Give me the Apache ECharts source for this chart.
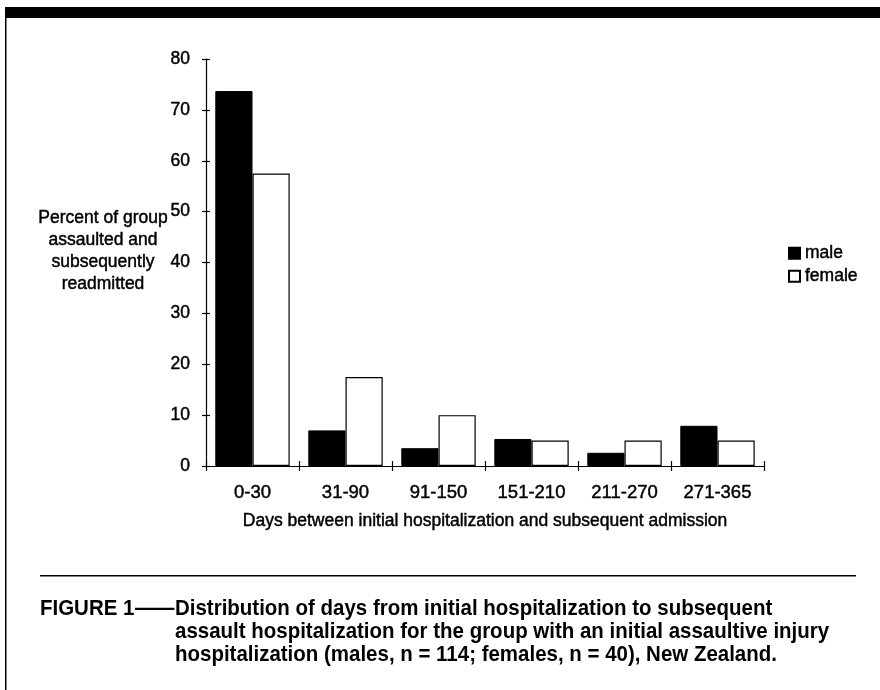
<!DOCTYPE html>
<html>
<head>
<meta charset="utf-8">
<script src="https://cdn.jsdelivr.net/npm/echarts@6/dist/echarts.min.js"></script>
<style>html,body{margin:0;padding:0;background:#fff;}#c{width:880px;height:690px;}</style>
</head>
<body>
<div id="c"></div>
<script>
const categories = ['0-30', '31-90', '91-150', '151-210', '211-270', '271-365'];
const maleValues = [73.7, 7.0, 3.5, 5.3, 2.6, 7.9];
const femaleValues = [57.5, 17.5, 10.0, 5.0, 5.0, 5.0];
const yTicks = [0, 10, 20, 30, 40, 50, 60, 70, 80];
const seriesNames = ['male', 'female'];
const yTitle = 'Percent of group\nassaulted and\nsubsequently\nreadmitted';
const xTitle = 'Days between initial hospitalization and subsequent admission';
const captionHead = 'FIGURE 1';
const captionDash = '\u2014';
const captionLines = [
  'Distribution of days from initial hospitalization to subsequent',
  'assault hospitalization for the group with an initial assaultive injury',
  'hospitalization (males, n = 114; females, n = 40), New Zealand.'
];

const FONT = 'Liberation Sans, Arial, sans-serif';
const chart = echarts.init(document.getElementById('c'), null, {renderer: 'canvas'});

const yMin = yTicks[0], yMax = yTicks[yTicks.length - 1], yStep = yTicks[1] - yTicks[0];
const CAP = 'bold 22.5px ' + FONT;
const CAPSX = 0.91;
const INK = {textBorderColor: '#000', textBorderWidth: 0.45};

const captionGraphics = [
  {type: 'text', x: 40, y: 597, scaleX: CAPSX, style: {text: captionHead, font: CAP, fill: '#000'}},
  {type: 'text', x: 135, y: 597, scaleX: 1.75, style: {text: captionDash, font: CAP, fill: '#000'}}
];
captionLines.forEach((t, i) => {
  captionGraphics.push({type: 'text', x: 175, y: 597 + i * 23, scaleX: CAPSX, style: {text: t, font: CAP, fill: '#000'}});
});

chart.setOption({
  backgroundColor: '#fff',
  animation: false,
  textStyle: {fontFamily: FONT},
  grid: {left: 206, right: 116, top: 59, bottom: 224, containLabel: false},
  legend: {
    orient: 'vertical', left: 788, top: 244, padding: 0,
    itemWidth: 11, itemHeight: 11, itemGap: 4.5,
    icon: 'rect',
    textStyle: Object.assign({fontSize: 17.5, color: '#000', fontFamily: FONT}, INK),
    data: seriesNames
  },
  xAxis: [{
    type: 'category', data: categories,
    axisLine: {lineStyle: {color: '#000', width: 1.2}},
    axisTick: {show: true, length: 5, lineStyle: {color: '#000', width: 1.2}},
    axisLabel: Object.assign({color: '#000', fontSize: 18.5, margin: 17, fontFamily: FONT}, INK),
    name: xTitle, nameLocation: 'middle', nameGap: 46,
    nameTextStyle: Object.assign({color: '#000', fontSize: 17.5, fontFamily: FONT}, INK)
  }, {
    type: 'category', data: categories, position: 'bottom',
    axisLine: {show: false},
    axisTick: {show: true, inside: true, length: 5, lineStyle: {color: '#000', width: 1.2}},
    axisLabel: {show: false}
  }],
  yAxis: [{
    type: 'value', min: yMin, max: yMax, interval: yStep,
    axisLine: {show: true, lineStyle: {color: '#000', width: 1.2}},
    axisTick: {show: true, length: 4, lineStyle: {color: '#000', width: 1.2}},
    axisLabel: Object.assign({color: '#000', fontSize: 17.5, margin: 16, fontFamily: FONT}, INK),
    splitLine: {show: false}
  }, {
    type: 'value', min: yMin, max: yMax, interval: yStep, position: 'left',
    axisLine: {show: false},
    axisTick: {show: true, inside: true, length: 4, lineStyle: {color: '#000', width: 1.2}},
    axisLabel: {show: false},
    splitLine: {show: false}
  }],
  series: [{
    name: seriesNames[0], type: 'bar', data: maleValues,
    barGap: '0%', barCategoryGap: '20%',
    itemStyle: {color: '#000', borderColor: '#000', borderWidth: 1}
  }, {
    name: seriesNames[1], type: 'bar', data: femaleValues,
    barGap: '0%', barCategoryGap: '20%',
    itemStyle: {color: '#fff', borderColor: '#000', borderWidth: 1.2}
  }],
  graphic: [
    {type: 'rect', shape: {x: 5, y: 7, width: 875, height: 11}, style: {fill: '#000'}},
    {type: 'rect', shape: {x: 5, y: 18, width: 1.5, height: 672}, style: {fill: '#000'}},
    {type: 'rect', shape: {x: 40, y: 575, width: 816, height: 1.5}, style: {fill: '#000'}},
    {type: 'text', x: 103, y: 207, style: Object.assign({text: yTitle, font: '17.5px ' + FONT, fill: '#000', textAlign: 'center', lineHeight: 22}, {stroke: '#000', lineWidth: 0.45})}
  ].concat(captionGraphics)
});
</script>
</body>
</html>
